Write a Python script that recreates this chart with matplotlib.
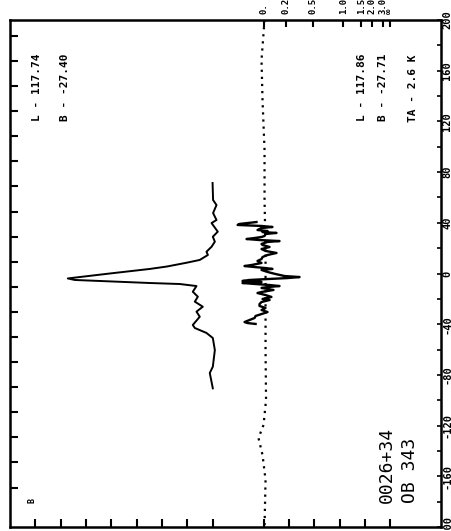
import numpy as np
import matplotlib
matplotlib.use('Agg')
import matplotlib.pyplot as plt

# emission profile: velocity (km/s) vs antenna temperature (K)
vel_em = [71.4, 58.0, 54.0, 47.7, 42.2, 39.8, 33.0, 29.0, 25.1, 21.1, 17.2, 14.6,
          10.7, 8.5, 5.5, 3.6, 0.0, -3.9, -5.1, -7.5, -8.3, -9.9, -14.4, -18.3,
          -22.2, -26.2, -30.1, -34.1, -40.6, -43.0, -46.9, -50.9, -60.4, -73.5,
          -78.5, -90.6]
temp_em = [0.02, -0.02, -0.29, -0.02, -0.29, 0.10, -0.39, 0.0, -0.16, 0.10, 0.50, 0.39,
           1.03, 2.07, 3.63, 4.97, 8.13, 11.44, 10.89, 4.97, 2.60, 1.29, 1.58, 1.18,
           1.42, 0.79, 1.29, 1.03, 1.58, 1.42, 0.50, 0.0, -0.16, 0.0,
           0.24, 0.0]

# absorption profile: velocity vs 1 - exp(-tau)
vel_ab = [40.6, 39.1, 38.3, 37.5, 36.7, 35.9, 34.3, 33.5, 32.7, 32.0, 31.2, 29.6,
          28.8, 28.0, 27.2, 26.4, 25.6, 24.9, 23.3, 22.5, 20.9, 19.3, 17.8, 16.2,
          14.6, 13.0, 11.4, 9.9, 8.3, 6.7, 5.9, 5.1, 4.3, 3.6, 2.8, 1.2,
          -0.4, -2.0, -2.8, -3.6, -4.3, -5.1, -5.9, -6.7, -7.5, -8.3, -9.1, -9.9,
          -10.7, -11.4, -13.0, -14.6, -15.4, -17.0, -18.5, -20.1, -20.9, -22.5, -24.1, -25.6,
          -27.2, -28.8, -30.4, -32.0, -33.5, -35.1, -36.7, -38.3, -39.1, -39.8]
absorp = [-0.056, -0.19, -0.206, -0.016, 0.071, -0.016, -0.048, 0.032, -0.008, 0.103, 0.016, 0.008,
          -0.016, -0.071, -0.135, -0.032, 0.127, 0.032, -0.016, -0.008, 0.048, -0.016, 0.016, 0.103,
          0.032, -0.008, -0.016, -0.048, -0.016, -0.095, -0.151, -0.071, 0.016, 0.071, -0.016, 0.032,
          0.095, 0.167, 0.286, 0.190, 0.048, -0.111, -0.167, -0.016, -0.167, -0.063, 0.048, 0.127,
          0.032, -0.016, 0.079, -0.016, -0.048, 0.016, 0.063, -0.008, 0.048, -0.016, -0.032, -0.032,
          0.016, -0.016, 0.032, -0.016, -0.063, -0.071, -0.111, -0.151, -0.127, -0.063]

# expected-profile baseline (dotted)
vel_base = [200, 168.4, 136.9, 97.4, 58.0, 18.5, -20.9, -60.4, -99.8, -119.5, -129.8, -143.2, -162.9, -200]
base_dev = [0.008, -0.016, -0.008, 0.008, 0.008, 0.016, 0.016, 0.016, 0.02, 0.0, -0.040, -0.008, 0.016, 0.008]

tau_ticks = [0.0, 0.2, 0.5, 1.0, 1.5, 2.0, 3.0, np.inf]
tau_labels = ['0.', '0.2', '0.5', '1.0', '1.5', '2.0', '3.0', '∞']

ABS_ZERO = -4.0     # where the absorption baseline sits on the temperature axis
ABS_SCALE = 9.94    # axis units per unit of 1-exp(-tau)

def abs_pos(a):
    return ABS_ZERO - ABS_SCALE * np.asarray(a)

W, H = 451, 531
fig = plt.figure(figsize=(W / 100, H / 100), dpi=100)
ax = fig.add_axes([10 / W, 1 - 527 / H, 431 / W, 507 / H])
ax.set_xlim(16, -18)
ax.set_ylim(-200, 200)

# twins first, since twinx/twiny move the ticks of the main axes
axl = ax.twinx()
axt = ax.twiny()

ax.plot(temp_em, vel_em, color='black', lw=1.4)
ax.plot(abs_pos(absorp), vel_ab, color='black', lw=1.7)
ax.plot(abs_pos(base_dev), vel_base, color='black', lw=1.6, ls=(0, (1, 2.2)))

for s in ax.spines.values():
    s.set_linewidth(1.8)

# bottom ticks (temperature scale)
ax.xaxis.tick_bottom()
ax.set_xticks([14, 12, 10, 8, 6, 4, 2, 0, -4, -6, -8, -10, -12, -14])
ax.tick_params(axis='x', direction='in', length=6, width=1.5, labelbottom=False)

# right: velocity labels
ax.yaxis.tick_right()
ax.set_yticks(np.arange(-200, 201, 40))
ax.set_yticks(np.arange(-180, 200, 40), minor=True)
ax.set_yticklabels([str(v) for v in np.arange(-200, 201, 40)],
                   rotation=90, va='center', fontsize=7.5, fontweight='bold',
                   family='DejaVu Sans Mono')
ax.tick_params(axis='y', which='both', direction='in', length=3, width=1.2, pad=1)

# left ticks
axl.set_ylim(-200, 200)
axl.yaxis.tick_left()
axl.set_yticks(np.arange(187.5, -175, -19.8))
axl.tick_params(axis='y', direction='in', length=6, width=1.5, labelleft=False)

# top: optical depth scale
axt.set_xlim(16, -18)
axt.xaxis.tick_top()
axt.set_xticks([abs_pos(1 - np.exp(-t)) for t in tau_ticks])
axt.set_xticklabels(tau_labels, rotation=90, fontsize=6.5, fontweight='bold',
                    family='DejaVu Sans Mono')
axt.tick_params(axis='x', direction='in', length=5, width=1.5, pad=4)
for a in (axl, axt):
    for s in a.spines.values():
        s.set_visible(False)

def label(x, ytop, txt, size=8, weight='bold'):
    fig.text(x / W, 1 - ytop / H, txt, rotation=90, ha='center', va='bottom',
             fontsize=size, family='DejaVu Sans Mono', fontweight=weight)

label(37, 121, 'L - 117.74')
label(65, 121, 'B - -27.40')
label(362, 121, 'L - 117.86')
label(383, 121, 'B - -27.71')
label(413, 122, 'TA - 2.6 K')
label(387, 503, '0026+34', size=13, weight='normal')
label(410, 503, 'OB 343', size=13, weight='normal')
label(32, 503, 'B', size=6)

fig.savefig('out.png', dpi=100)
